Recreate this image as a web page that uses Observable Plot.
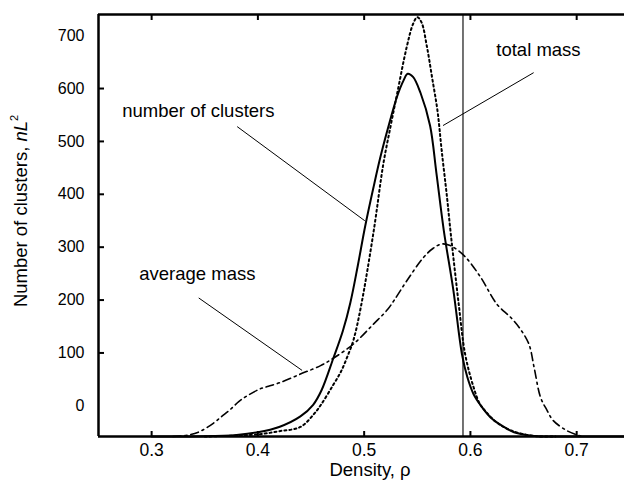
<!DOCTYPE html>
<html><head><meta charset="utf-8">
<script src="https://cdn.jsdelivr.net/npm/d3@7"></script>
<script src="https://cdn.jsdelivr.net/npm/@observablehq/plot@0.6"></script>
<style>body{margin:0;background:#fff}</style>
</head><body><div id="chart"></div>
<script>
const xTicks = [0.3, 0.4, 0.5, 0.6, 0.7];
const yTickLabels = [0, 100, 200, 300, 400, 500, 600, 700];
const yTickMarks = [100, 200, 300, 400, 500, 600];
const criticalRho = [0.593];

// number of clusters (solid)
const numberOfClusters = [
  [0.30,-58],[0.35,-57.5],[0.38,-55],[0.40,-50],[0.42,-40],[0.44,-20],[0.452,2],[0.46,30],
  [0.471,90],[0.48,142],[0.487,195],[0.494,265],[0.501,340],[0.509,415],[0.515,468],[0.522,522],
  [0.531,585],[0.537,615],[0.541,628],[0.546,622],[0.553,592],[0.562,530],[0.568,440],[0.575,331],
  [0.584,218],[0.592,98],[0.597,55],[0.603,22],[0.61,0],[0.619,-22],[0.63,-38],[0.641,-50],
  [0.66,-57],[0.68,-58],[0.745,-58]
];
// total mass (dotted)
const totalMass = [
  [0.35,-58],[0.40,-54],[0.42,-48],[0.44,-40],[0.453,-15],[0.46,4],[0.471,40],[0.478,64],
  [0.484,92],[0.49,125],[0.497,188],[0.509,331],[0.518,457],[0.525,530],[0.531,590],[0.540,678],
  [0.546,722],[0.550,735],[0.554,725],[0.559,680],[0.564,620],[0.569,558],[0.573,482],[0.578,394],
  [0.581,335],[0.584,280],[0.589,192],[0.595,98],[0.603,35],[0.609,3],[0.615,-12],[0.625,-32],
  [0.64,-48],[0.66,-57],[0.68,-58]
];
// average mass (dash-dot)
const averageMass = [
  [0.32,-58],[0.335,-55],[0.346,-48],[0.358,-33],[0.366,-20],[0.374,-7],[0.382,8],[0.390,19],
  [0.402,32],[0.41,37],[0.421,44],[0.44,60],[0.459,76],[0.471,90],[0.49,117],[0.509,155],
  [0.522,182],[0.528,199],[0.54,236],[0.556,281],[0.565,298],[0.573,306],[0.581,303],[0.594,284],
  [0.609,245],[0.625,192],[0.638,167],[0.647,145],[0.655,117],[0.66,72],[0.666,16],[0.672,-8],
  [0.678,-28],[0.69,-46],[0.70,-55],[0.705,-58]
];

const annoLabels = ["number of clusters", "total mass", "average mass"];
const annoRho = [0.344, 0.664, 0.343];
const annoVal = [558, 672, 250];
const leaderRho1 = [0.3805, 0.6595, 0.3443];
const leaderVal1 = [528, 630, 204];
const leaderRho2 = [0.5006, 0.5742, 0.4416];
const leaderVal2 = [350, 530, 67];

const font = "'Liberation Sans', Arial, Helvetica, sans-serif";
const annos = annoLabels.map((t, i) => ({t, x: annoRho[i], y: annoVal[i]}));
const leaders = leaderRho1.map((d, i) => ({x1: d, y1: leaderVal1[i], x2: leaderRho2[i], y2: leaderVal2[i]}));

const plot = Plot.plot({
  width: 624, height: 483,
  marginTop: 14, marginRight: 0, marginBottom: 47, marginLeft: 98,
  style: {fontFamily: font, background: "#fff", color: "#000"},
  x: {domain: [0.25, 0.745]},
  y: {domain: [-58, 740]},
  marks: [
    Plot.axisY({ticks: yTickLabels, tickSize: 0, tickPadding: 14, fontSize: 16, label: null}),
    Plot.axisY({ticks: yTickMarks, tickSize: -6, strokeWidth: 2, tickFormat: () => "", label: null}),
    Plot.axisX({ticks: xTicks, anchor: "bottom", tickSize: 0, tickPadding: 7, fontSize: 17.5, label: null, tickFormat: d3.format(".1f")}),
    Plot.axisX({ticks: xTicks, anchor: "bottom", tickSize: -5, strokeWidth: 2, tickFormat: () => "", label: null}),
    Plot.axisX({ticks: xTicks, anchor: "top", tickSize: -5, strokeWidth: 2, tickFormat: () => "", label: null}),
    Plot.ruleX(criticalRho, {stroke: "#444", strokeWidth: 1.5}),
    Plot.line(numberOfClusters, {x: d => d[0], y: d => d[1], stroke: "#000", strokeWidth: 2, curve: "catmull-rom"}),
    Plot.line(totalMass, {x: d => d[0], y: d => d[1], stroke: "#000", strokeWidth: 2, strokeDasharray: "2,3", curve: "catmull-rom"}),
    Plot.line(averageMass, {x: d => d[0], y: d => d[1], stroke: "#000", strokeWidth: 1.6, strokeDasharray: "8,4,2,4", curve: "catmull-rom"}),
    Plot.link(leaders, {x1: "x1", y1: "y1", x2: "x2", y2: "y2", stroke: "#000", strokeWidth: 1}),
    Plot.text(annos, {x: "x", y: "y", text: "t", fontSize: 18.5, fill: "#000"}),
    Plot.ruleX([0.25], {stroke: "#000", strokeWidth: 2.5}),
    Plot.ruleY([-58], {stroke: "#000", strokeWidth: 2.5}),
    Plot.ruleY([740], {stroke: "#000", strokeWidth: 2.5})
  ]
});

const svg = d3.select(plot);
const yl = svg.append("text")
  .attr("transform", "translate(27,211) rotate(-90)")
  .attr("text-anchor", "middle")
  .attr("font-size", 18.5)
  .attr("font-family", font)
  .attr("fill", "#000");
yl.append("tspan").text("Number of clusters, ");
yl.append("tspan").attr("font-style", "italic").text("nL");
yl.append("tspan").attr("font-size", 11).attr("dy", -9).text("2");

svg.append("text")
  .attr("x", 370).attr("y", 476)
  .attr("text-anchor", "middle")
  .attr("font-size", 18.5)
  .attr("font-family", font)
  .attr("fill", "#000")
  .text("Density, ρ");

document.getElementById("chart").appendChild(plot);
</script>
</body></html>
